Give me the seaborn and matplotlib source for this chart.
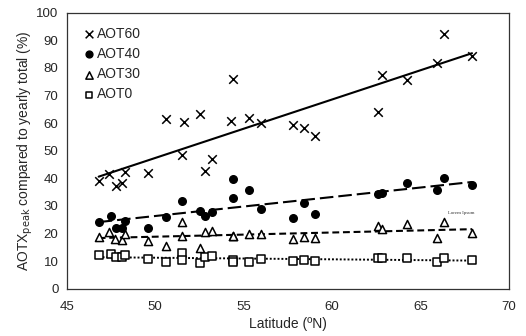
import matplotlib
matplotlib.use("Agg")
import matplotlib.pyplot as plt
import seaborn as sns

sns.set_theme(style="white")
plt.rcParams['font.family'] = ['Liberation Sans', 'DejaVu Sans']

# latitude (ºN) and AOTX peak share (%) per series
lat60 = [46.8, 47.4, 47.8, 48.1, 48.3, 49.6, 50.6, 51.6, 51.5, 52.5, 52.8, 53.2, 54.3,
         54.4, 55.3, 56.0, 57.8, 58.4, 59.0, 62.6, 62.8, 64.2, 65.9, 66.3, 67.9]
aot60 = [39.0, 41.6, 37.3, 38.2, 42.4, 42.0, 61.4, 60.3, 48.4, 63.3, 42.8, 47.0, 60.8,
         75.9, 61.7, 59.9, 59.4, 58.3, 55.4, 64.1, 77.4, 75.6, 81.9, 92.4, 84.3]

lat40 = [46.8, 47.5, 47.8, 48.1, 48.3, 49.6, 50.6, 51.5, 52.5, 52.8, 53.2, 54.4,
         54.4, 55.3, 56.0, 57.8, 58.4, 59.0, 62.6, 62.8, 64.2, 65.9, 66.3, 67.9]
aot40 = [24.3, 26.4, 22.1, 22.1, 24.6, 22.1, 26.1, 31.8, 28.3, 26.3, 27.9, 33.0,
         39.7, 35.8, 28.8, 25.7, 31.2, 27.1, 34.3, 34.6, 38.4, 35.8, 40.0, 37.5]

lat30 = [46.8, 47.4, 47.7, 48.1, 48.3, 49.6, 50.6, 51.5, 51.5, 52.5, 52.8, 53.2, 54.4,
         54.4, 55.3, 56.0, 57.8, 58.4, 59.0, 62.6, 62.8, 64.2, 65.9, 66.3, 67.9]
aot30 = [18.8, 20.7, 17.9, 17.6, 19.8, 17.4, 15.5, 24.3, 19.1, 14.9, 20.7, 21.0, 19.2,
         18.9, 19.8, 19.8, 18.0, 18.8, 18.5, 22.8, 21.5, 23.4, 18.5, 24.1, 20.1]

lat0 = [46.8, 47.5, 47.8, 48.1, 48.3, 49.6, 50.6, 51.5, 51.5, 52.5, 52.8, 53.2, 54.4,
        54.4, 55.3, 56.0, 57.8, 58.4, 59.0, 62.6, 62.8, 64.2, 65.9, 66.3, 67.9]
aot0 = [12.2, 12.5, 11.6, 11.4, 12.2, 10.8, 9.7, 12.8, 10.4, 9.4, 11.6, 12.0, 10.4,
        9.7, 9.8, 10.8, 10.1, 10.4, 10.0, 11.0, 11.0, 11.2, 9.8, 11.0, 10.4]

series = [
    ("AOT60", lat60, aot60, 'x', dict(s=38, linewidths=1.1),
     dict(ls='-', lw=1.5)),
    ("AOT40", lat40, aot40, 'o', dict(s=30, edgecolor='black'),
     dict(ls=(0, (6.5, 2.4)), lw=1.5)),
    ("AOT30", lat30, aot30, '^', dict(s=34, facecolor='white', edgecolor='black', linewidths=1.1),
     dict(ls=(0, (3.3, 1.8)), lw=1.5)),
    ("AOT0", lat0, aot0, 's', dict(s=28, facecolor='white', edgecolor='black', linewidths=1.1),
     dict(ls=(0, (1, 1)), lw=1.4)),
]

fig, ax = plt.subplots(figsize=(5.26, 3.36), dpi=100)
fig.subplots_adjust(left=0.127, right=0.968, top=0.962, bottom=0.141)

for name, xs, ys, mk, skw, lkw in series:
    sns.regplot(x=xs, y=ys, ax=ax, ci=None, label=name, marker=mk, color='black',
                scatter_kws=dict(alpha=1, zorder=3, **skw),
                line_kws=dict(color='black', zorder=2, **lkw))

ax.set_xlim(45, 70)
ax.set_ylim(0, 100)
ax.set_xticks(range(45, 71, 5))
ax.set_yticks(range(0, 101, 10))
ax.tick_params(direction='in', length=4, width=0.8, color='#333333', labelsize=9.5)
ax.tick_params(axis='x', pad=9)
ax.tick_params(axis='y', pad=6)
for sp in ax.spines.values():
    sp.set_color('#333333')
    sp.set_linewidth(0.9)

ax.set_xlabel("Latitude (ºN)", fontsize=10)
ax.set_ylabel("AOTX$_{\\mathrm{peak}}$ compared to yearly total (%)", fontsize=10)
ax.xaxis.set_label_coords(0.5, -0.104)
ax.yaxis.set_label_coords(-0.073, 0.5)

ax.text(67.3, 27.5, "Lorem Ipsum", fontsize=3.5, family='Liberation Serif',
        ha='center', va='center', color='#333333')

ax.legend(loc='upper left', frameon=False, fontsize=10, handletextpad=0.0,
          labelspacing=0.45, borderaxespad=0.6, handlelength=1.2, markerscale=0.9)

plt.savefig("out.png", dpi=100)
